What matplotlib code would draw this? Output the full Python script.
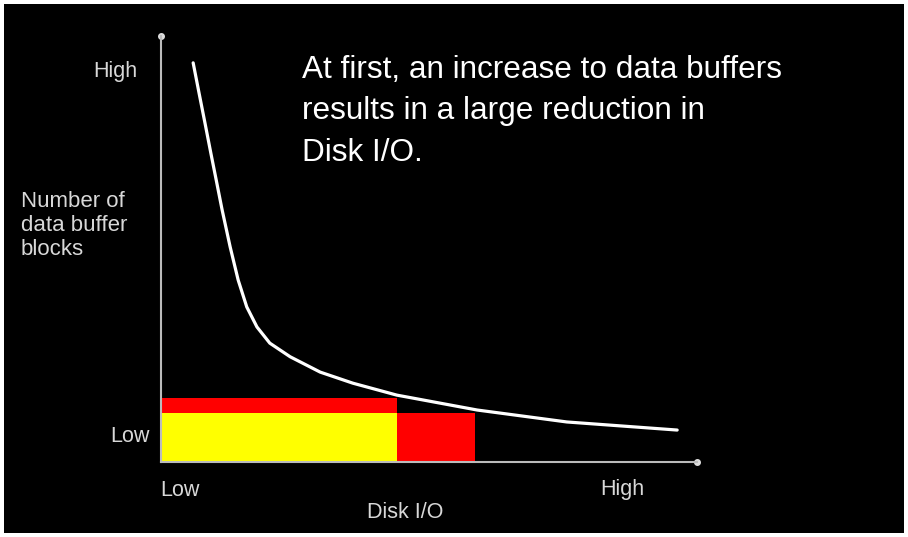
import matplotlib
matplotlib.use("Agg")
import matplotlib.pyplot as plt
from matplotlib.patches import Rectangle

# Curve: number of data buffer blocks vs Disk I/O (arbitrary 0-10 units)
curve_x = [0.60, 0.71, 0.82, 0.93, 1.03, 1.14, 1.29, 1.44, 1.60, 1.79, 2.03, 2.41,
           2.97, 3.58, 4.40, 5.90, 7.57, 9.63]
curve_y = [9.37, 8.66, 7.96, 7.25, 6.62, 5.92, 5.05, 4.27, 3.64, 3.17, 2.79, 2.47,
           2.11, 1.85, 1.57, 1.22, 0.94, 0.75]

# Bars along the bottom
yellow_width = 4.40
yellow_height = 1.15
red_top_height = 0.35
red_right_start = 4.40
red_right_width = 1.46

x_labels = ["Low", "High"]
y_labels = ["Low", "High"]
title_text = "At first, an increase to data buffers\nresults in a large reduction in\nDisk I/O."
y_title = "Number of\ndata buffer\nblocks"
x_title = "Disk I/O"

W, H = 908, 537
fig = plt.figure(figsize=(W / 100, H / 100), dpi=100, facecolor="white")
fig.patches.append(Rectangle((4 / W, 4 / H), 900 / W, 529 / H, transform=fig.transFigure,
                             facecolor="black", edgecolor="none", zorder=-5))

ax = fig.add_axes([161 / W, (H - 462) / H, 536 / W, 426 / H])
ax.set_facecolor("none")
ax.set_xlim(0, 10)
ax.set_ylim(0, 10)
for s in ["top", "right"]:
    ax.spines[s].set_visible(False)
for s in ["left", "bottom"]:
    ax.spines[s].set_color("#bbbbbb")
    ax.spines[s].set_linewidth(1.5)
ax.set_xticks([])
ax.set_yticks([])
ax.plot(1, 0, marker="o", ms=4, color="#dddddd", transform=ax.transAxes, clip_on=False)
ax.plot(0, 1, marker="o", ms=4, color="#dddddd", transform=ax.transAxes, clip_on=False)

ax.bar(0, yellow_height, width=yellow_width, align="edge", color="#ffff00", zorder=2)
ax.bar(0, red_top_height, width=yellow_width, bottom=yellow_height, align="edge", color="#ff0000", zorder=2)
ax.bar(red_right_start, yellow_height, width=red_right_width, align="edge", color="#ff0000", zorder=2)

ax.plot(curve_x, curve_y, color="white", lw=2.3, zorder=3, solid_capstyle="round",
        solid_joinstyle="round")

font = "Liberation Sans"
lab_col = "#d8d8d8"
fs = 15.5
fig.text(115 / W, 1 - 72 / H, y_labels[1], ha="center", va="center", color=lab_col, fontsize=fs, family=font)
fig.text(130 / W, 1 - 436 / H, y_labels[0], ha="center", va="center", color=lab_col, fontsize=fs, family=font)
fig.text(21 / W, 1 - 191 / H, y_title, ha="left", va="top", color=lab_col, fontsize=16,
         family=font, linespacing=1.2)
fig.text(180 / W, 1 - 490 / H, x_labels[0], ha="center", va="center", color=lab_col, fontsize=fs, family=font)
fig.text(622 / W, 1 - 490 / H, x_labels[1], ha="center", va="center", color=lab_col, fontsize=fs, family=font)
fig.text(405 / W, 1 - 512 / H, x_title, ha="center", va="center", color=lab_col, fontsize=fs, family=font)
fig.text(302 / W, 1 - 55 / H, title_text, ha="left", va="top", color="white", fontsize=22.7,
         family=font, linespacing=1.5)

fig.savefig("out.png", dpi=100, facecolor="white")
